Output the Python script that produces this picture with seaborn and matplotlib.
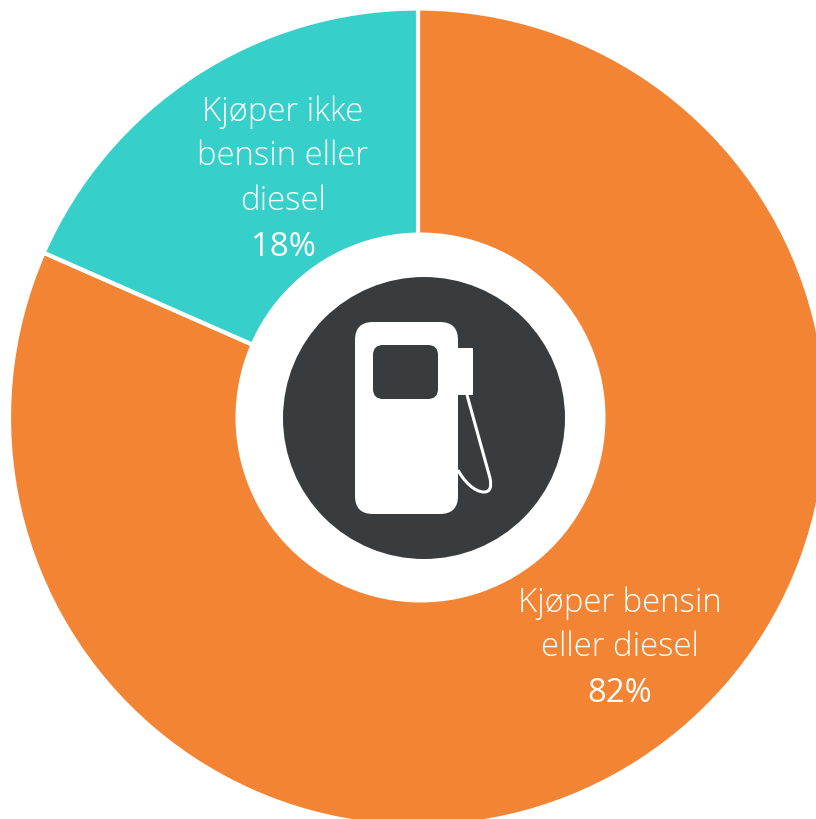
import matplotlib
matplotlib.use('Agg')
import matplotlib.pyplot as plt
import seaborn as sns
from matplotlib.patches import Circle, FancyBboxPatch, PathPatch, Rectangle
from matplotlib.path import Path

sns.set_theme(style='white')
plt.rcParams['font.family'] = ['Open Sans', 'DejaVu Sans']

# Data
categories = ['Kjøper bensin\neller diesel', 'Kjøper ikke\nbensin eller\ndiesel']
shares = [81.6, 18.4]
share_labels = ['82%', '18%']
colors = ['#F28433', '#36CFC9']
dark = '#383C3F'

W, H = 816, 820
fig = plt.figure(figsize=(W / 100, H / 100), dpi=100)
ax = fig.add_axes([0, 0, 1, 1])

# Donut, the hole is a white circle a bit off centre like the original
cx, cy, r = 418, 418.5, 409
ax.pie(shares, colors=colors, startangle=90, counterclock=False, center=(cx, -cy), radius=r,
       wedgeprops=dict(width=r - 170, edgecolor='white', linewidth=3), frame=False)
ax.set_xlim(0, W)
ax.set_ylim(-H, 0)
ax.set_aspect('equal')
ax.axis('off')
ax.add_patch(Circle((420.5, -418.5), 185, fc='white', ec='none', zorder=3))

# Centre icon
ax.add_patch(Circle((424, -419), 141, fc=dark, ec='none', zorder=4))
ax.add_patch(FancyBboxPatch((355, -515), 103, 192, boxstyle='round,pad=0,rounding_size=18',
                            fc='white', ec='none', zorder=5))
ax.add_patch(FancyBboxPatch((373, -400), 65, 54, boxstyle='round,pad=0,rounding_size=10',
                            fc=dark, ec='none', zorder=6))
ax.add_patch(Rectangle((457, -396), 16, 47, fc='white', ec='none', zorder=5))
hose = Path([(467, -396), (490, -479), (493, -493), (484, -493), (474, -493), (463, -481), (458, -471)],
            [Path.MOVETO, Path.LINETO, Path.CURVE3, Path.CURVE3, Path.CURVE4, Path.CURVE4, Path.CURVE4])
ax.add_patch(PathPatch(hose, fc='none', ec='white', lw=2.2, zorder=5))

# Labels
ax.text(619.5, -625, categories[0], color='white', fontsize=23.7, ha='center', va='center',
        linespacing=1.43, fontweight='light', zorder=7)
ax.text(620, -694, share_labels[0], color='white', fontsize=23.7, ha='center', va='center', zorder=7)
ax.text(283, -156.5, categories[1], color='white', fontsize=23.7, ha='center', va='center',
        linespacing=1.43, fontweight='light', zorder=7)
ax.text(283, -248, share_labels[1], color='white', fontsize=23.7, ha='center', va='center', zorder=7)

fig.savefig('out.png', dpi=100)
